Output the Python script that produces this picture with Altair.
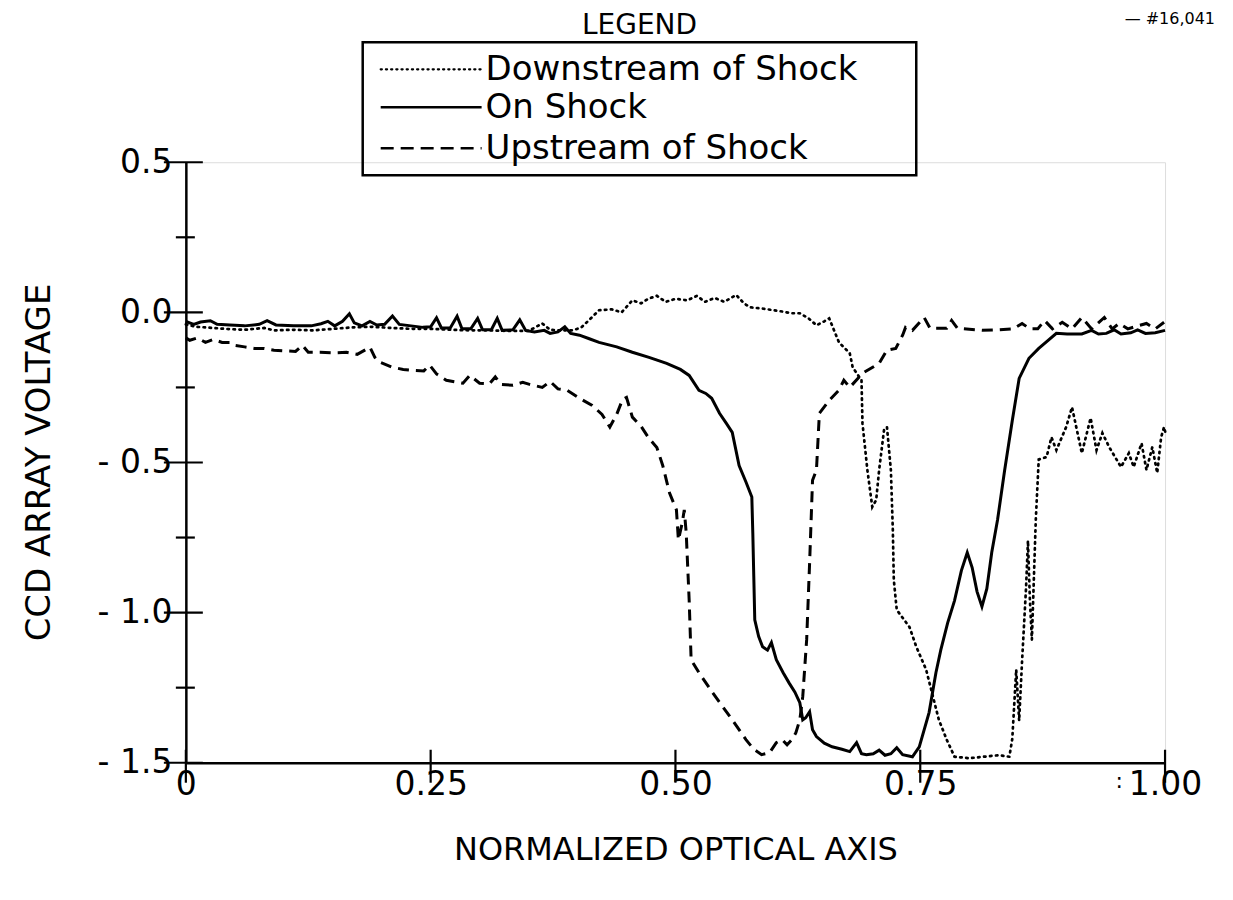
import altair as alt
import pandas as pd

# ---------------- data ----------------
on_x = [0.000, 0.008, 0.015, 0.025, 0.032, 0.045, 0.060, 0.075, 0.083, 0.092,
        0.110, 0.128, 0.138, 0.145, 0.152, 0.160, 0.167, 0.172, 0.180, 0.188,
        0.195, 0.203, 0.211, 0.218, 0.230, 0.242, 0.250, 0.256, 0.261, 0.270,
        0.277, 0.282, 0.291, 0.298, 0.303, 0.312, 0.318, 0.323, 0.334, 0.341,
        0.347, 0.356, 0.366, 0.372, 0.380, 0.387, 0.393, 0.402, 0.412, 0.422,
        0.440, 0.456, 0.473, 0.491, 0.505, 0.514, 0.524, 0.531, 0.537, 0.545,
        0.552, 0.558, 0.565, 0.572, 0.578, 0.579, 0.580, 0.581, 0.585, 0.589,
        0.594, 0.598, 0.603, 0.610, 0.616, 0.622, 0.627, 0.630, 0.633, 0.637,
        0.640, 0.644, 0.652, 0.660, 0.670, 0.678, 0.685, 0.690, 0.695, 0.702,
        0.708, 0.714, 0.720, 0.726, 0.732, 0.742, 0.749, 0.759, 0.766, 0.771,
        0.778, 0.785, 0.792, 0.798, 0.803, 0.808, 0.813, 0.818, 0.823, 0.829,
        0.836, 0.844, 0.851, 0.861, 0.871, 0.880, 0.889, 0.900, 0.915, 0.925,
        0.932, 0.940, 0.948, 0.955, 0.965, 0.972, 0.980, 0.990, 1.000]
on_y = [-0.030, -0.040, -0.032, -0.028, -0.040, -0.042, -0.045, -0.040, -0.028, -0.042,
        -0.045, -0.045, -0.038, -0.030, -0.045, -0.030, -0.005, -0.035, -0.045, -0.030,
        -0.042, -0.040, -0.012, -0.040, -0.045, -0.050, -0.048, -0.018, -0.052, -0.052,
        -0.013, -0.055, -0.055, -0.020, -0.058, -0.058, -0.020, -0.060, -0.058, -0.025,
        -0.060, -0.065, -0.060, -0.070, -0.065, -0.048, -0.070, -0.076, -0.088, -0.100,
        -0.115, -0.133, -0.150, -0.170, -0.190, -0.210, -0.260, -0.270, -0.286, -0.336,
        -0.370, -0.400, -0.510, -0.565, -0.615, -0.735, -0.880, -1.024, -1.080, -1.114,
        -1.125, -1.100, -1.157, -1.200, -1.234, -1.265, -1.300, -1.357, -1.350, -1.330,
        -1.390, -1.413, -1.435, -1.447, -1.455, -1.463, -1.433, -1.470, -1.473, -1.470,
        -1.458, -1.475, -1.470, -1.450, -1.473, -1.480, -1.447, -1.333, -1.200, -1.124,
        -1.034, -0.960, -0.860, -0.800, -0.850, -0.930, -0.980, -0.920, -0.800, -0.690,
        -0.530, -0.360, -0.220, -0.153, -0.120, -0.095, -0.070, -0.072, -0.072, -0.060,
        -0.072, -0.070, -0.058, -0.072, -0.068, -0.058, -0.070, -0.068, -0.060]

down_x = [0.000, 0.010, 0.020, 0.040, 0.060, 0.080, 0.090, 0.110, 0.130, 0.150,
          0.170, 0.190, 0.210, 0.230, 0.250, 0.270, 0.290, 0.310, 0.330, 0.350,
          0.364, 0.372, 0.382, 0.395, 0.404, 0.412, 0.422, 0.435, 0.445, 0.456,
          0.465, 0.472, 0.481, 0.490, 0.500, 0.512, 0.522, 0.530, 0.540, 0.550,
          0.562, 0.570, 0.576, 0.590, 0.605, 0.619, 0.627, 0.636, 0.644, 0.652,
          0.657, 0.667, 0.678, 0.681, 0.690, 0.691, 0.696, 0.701, 0.705, 0.708,
          0.713, 0.716, 0.720, 0.722, 0.723, 0.726, 0.739, 0.746, 0.756, 0.762,
          0.769, 0.777, 0.785, 0.800, 0.815, 0.830, 0.841, 0.844, 0.848, 0.851,
          0.854, 0.858, 0.860, 0.862, 0.864, 0.866, 0.868, 0.871, 0.879, 0.884,
          0.889, 0.899, 0.905, 0.915, 0.924, 0.930, 0.936, 0.943, 0.955, 0.963,
          0.968, 0.976, 0.981, 0.987, 0.992, 0.996, 0.999, 1.001]
down_y = [-0.040, -0.048, -0.050, -0.055, -0.058, -0.052, -0.060, -0.058, -0.060, -0.055,
          -0.050, -0.048, -0.052, -0.055, -0.055, -0.058, -0.060, -0.060, -0.062, -0.062,
          -0.037, -0.058, -0.060, -0.060, -0.050, -0.025, 0.007, 0.010, 0.000, 0.040,
          0.030, 0.045, 0.055, 0.035, 0.045, 0.040, 0.055, 0.035, 0.048, 0.035,
          0.058, 0.030, 0.017, 0.012, 0.005, -0.003, -0.003, -0.020, -0.043, -0.030,
          -0.020, -0.100, -0.136, -0.183, -0.226, -0.369, -0.525, -0.648, -0.625, -0.525,
          -0.392, -0.382, -0.525, -0.725, -0.891, -0.991, -1.048, -1.114, -1.190, -1.267,
          -1.357, -1.423, -1.480, -1.485, -1.480, -1.475, -1.480, -1.420, -1.190, -1.360,
          -1.160, -0.920, -0.760, -0.960, -1.090, -0.890, -0.690, -0.490, -0.482, -0.416,
          -0.459, -0.382, -0.316, -0.469, -0.352, -0.459, -0.402, -0.449, -0.515, -0.469,
          -0.515, -0.436, -0.525, -0.449, -0.535, -0.416, -0.382, -0.409]

up_x = [0.000, 0.004, 0.012, 0.020, 0.028, 0.037, 0.045, 0.050, 0.060, 0.070,
        0.080, 0.090, 0.100, 0.112, 0.119, 0.125, 0.137, 0.150, 0.164, 0.175,
        0.188, 0.193, 0.198, 0.211, 0.222, 0.232, 0.243, 0.249, 0.256, 0.266,
        0.276, 0.283, 0.290, 0.300, 0.310, 0.316, 0.322, 0.334, 0.344, 0.351,
        0.364, 0.372, 0.380, 0.389, 0.402, 0.415, 0.425, 0.433, 0.440, 0.446,
        0.450, 0.456, 0.465, 0.473, 0.481, 0.487, 0.494, 0.501, 0.503, 0.507,
        0.509, 0.511, 0.514, 0.516, 0.524, 0.538, 0.558, 0.572, 0.580, 0.588,
        0.596, 0.603, 0.609, 0.614, 0.619, 0.623, 0.627, 0.630, 0.634, 0.637,
        0.640, 0.644, 0.647, 0.657, 0.667, 0.672, 0.678, 0.691, 0.708, 0.716,
        0.725, 0.732, 0.735, 0.742, 0.754, 0.760, 0.777, 0.782, 0.788, 0.813,
        0.830, 0.845, 0.854, 0.862, 0.870, 0.877, 0.885, 0.895, 0.905, 0.915,
        0.925, 0.938, 0.946, 0.953, 0.962, 0.972, 0.981, 0.990, 0.999]
up_y = [-0.085, -0.093, -0.085, -0.100, -0.090, -0.100, -0.100, -0.110, -0.115, -0.120,
        -0.120, -0.126, -0.128, -0.130, -0.110, -0.133, -0.133, -0.135, -0.133, -0.140,
        -0.116, -0.150, -0.166, -0.183, -0.190, -0.193, -0.195, -0.176, -0.205, -0.226,
        -0.232, -0.236, -0.210, -0.236, -0.238, -0.215, -0.240, -0.243, -0.233, -0.240,
        -0.250, -0.230, -0.255, -0.259, -0.286, -0.310, -0.340, -0.382, -0.340, -0.290,
        -0.283, -0.349, -0.380, -0.420, -0.450, -0.510, -0.602, -0.658, -0.758, -0.700,
        -0.658, -0.735, -0.958, -1.157, -1.200, -1.267, -1.357, -1.423, -1.455, -1.473,
        -1.467, -1.433, -1.423, -1.440, -1.423, -1.400, -1.357, -1.280, -1.090, -0.835,
        -0.559, -0.525, -0.336, -0.293, -0.259, -0.226, -0.250, -0.203, -0.170, -0.126,
        -0.120, -0.076, -0.050, -0.060, -0.017, -0.053, -0.053, -0.027, -0.053, -0.060,
        -0.058, -0.055, -0.037, -0.055, -0.055, -0.027, -0.055, -0.033, -0.055, -0.017,
        -0.055, -0.017, -0.055, -0.037, -0.055, -0.045, -0.037, -0.055, -0.033]

series_names = ["Downstream of Shock", "On Shock", "Upstream of Shock"]
x_tick_values = [0.0, 0.25, 0.50, 0.75, 1.00]
y_label_values = [-1.5, -1.0, -0.5, 0.0, 0.5]
y_minor_values = [-1.25, -0.75, -0.25, 0.25]

# ---------------- build ----------------
def frame(xs, ys, name):
    return pd.DataFrame({"x": xs, "y": ys, "series": name, "i": list(range(len(xs)))})

df = pd.concat([frame(down_x, down_y, series_names[0]),
                frame(on_x, on_y, series_names[1]),
                frame(up_x, up_y, series_names[2])], ignore_index=True)

FONT = "DejaVu Sans"
W, H = 980, 601

xscale = alt.Scale(domain=[0, 1], nice=False, zero=False)
yscale = alt.Scale(domain=[-1.5, 0.5], nice=False, zero=False)

xaxis = alt.Axis(values=x_tick_values, ticks=False, grid=False,
                 labelExpr="datum.value == 0 ? '0' : format(datum.value, '.2f')",
                 labelFont=FONT, labelFontSize=33, labelColor="black",
                 labelBaseline="middle", labelPadding=22, labelFlush=False,
                 domainColor="black", domainWidth=2.5,
                 title="NORMALIZED OPTICAL AXIS", titleFont=FONT, titleFontSize=32,
                 titleFontWeight="normal", titleColor="black",
                 titleX=490, titleY=87, titleAlign="center", titleBaseline="middle",
                 titleAngle=0)
yaxis = alt.Axis(values=y_label_values, ticks=False, grid=False,
                 labelExpr="datum.value < 0 ? '- ' + format(-datum.value, '.1f') : format(datum.value, '.1f')",
                 labelFont=FONT, labelFontSize=33, labelColor="black",
                 labelPadding=14, labelFlush=False,
                 domainColor="black", domainWidth=2.5,
                 title="CCD ARRAY VOLTAGE", titleFont=FONT, titleFontSize=34,
                 titleFontWeight="normal", titleColor="black",
                 titleX=-146, titleY=300, titleAngle=-90, titleAlign="center",
                 titleBaseline="middle")

X = alt.X("x:Q", scale=xscale, axis=xaxis)
Y = alt.Y("y:Q", scale=yscale, axis=yaxis)

base = alt.Chart(df)

def series_line(name, **kw):
    return (base.transform_filter(alt.datum.series == name)
            .mark_line(color="black", clip=False, **kw)
            .encode(x=X, y=Y, order="i:Q"))

down_line = series_line(series_names[0], strokeWidth=2.7, strokeDash=[1.5, 4.5], strokeCap="round")
on_line = series_line(series_names[1], strokeWidth=3)
up_line = series_line(series_names[2], strokeWidth=3, strokeDash=[11, 7])

# crossing tick marks
ymaj = pd.DataFrame({"y": y_label_values})
ymin = pd.DataFrame({"y": y_minor_values})
xt = pd.DataFrame({"x": x_tick_values})
ymaj_rule = alt.Chart(ymaj).mark_rule(color="black", strokeWidth=2.2).encode(
    y=Y, x=alt.value(-22), x2=alt.value(17))
ymin_rule = alt.Chart(ymin).mark_rule(color="black", strokeWidth=2.2).encode(
    y=Y, x=alt.value(-10), x2=alt.value(9))
xt_rule = alt.Chart(xt).mark_rule(color="black", strokeWidth=2.2).encode(
    x=X, y=alt.value(H - 13), y2=alt.value(H + 20))

# legend (drawn)
one = pd.DataFrame({"a": [0]})
box = alt.Chart(one).mark_rect(fillOpacity=0, stroke="black", strokeWidth=2.5).encode(
    x=alt.value(177), x2=alt.value(731), y=alt.value(-120), y2=alt.value(13))
leg_title = alt.Chart(pd.DataFrame({"t": ["LEGEND"]})).mark_text(
    font=FONT, fontSize=28, color="black", align="center", baseline="middle").encode(
    x=alt.value(454), y=alt.value(-136), text="t:N")
leg_rows = pd.DataFrame({"t": series_names, "yy": [-92, -54, -13]})
leg_text = alt.Chart(leg_rows).mark_text(
    font=FONT, fontSize=34, color="black", align="left", baseline="middle").encode(
    x=alt.value(300), y=alt.Y("yy:Q", scale=None), text="t:N")
s1 = alt.Chart(one).mark_rule(color="black", strokeWidth=2.2, strokeDash=[1.2, 4], strokeCap="round").encode(
    x=alt.value(195), x2=alt.value(296), y=alt.value(-93))
s2 = alt.Chart(one).mark_rule(color="black", strokeWidth=2.6).encode(
    x=alt.value(195), x2=alt.value(296), y=alt.value(-55))
s3 = alt.Chart(one).mark_rule(color="black", strokeWidth=2.6, strokeDash=[13, 7]).encode(
    x=alt.value(195), x2=alt.value(296), y=alt.value(-14))

# scan marks
stray = alt.Chart(pd.DataFrame({"t": [":"]})).mark_text(
    font=FONT, fontSize=22, color="black", align="center", baseline="middle").encode(
    x=alt.value(934), y=alt.value(H + 18), text="t:N")
corner = alt.Chart(pd.DataFrame({"t": ["— #16,041"]})).mark_text(
    font=FONT, fontSize=16, color="black", align="right", baseline="middle").encode(
    x=alt.value(1030), y=alt.value(-143), text="t:N")

chart = alt.layer(
    on_line, down_line, up_line, ymaj_rule, ymin_rule, xt_rule,
    box, leg_title, leg_text, s1, s2, s3, stray, corner
).properties(
    width=W, height=H,
    padding={"left": 178, "top": 154, "right": 60, "bottom": 110},
    autosize=alt.AutoSizeParams(type="none"),
).configure_view(stroke=None).configure(background="white")

chart.save("out.html", embed_options={"renderer": "svg", "actions": False})
